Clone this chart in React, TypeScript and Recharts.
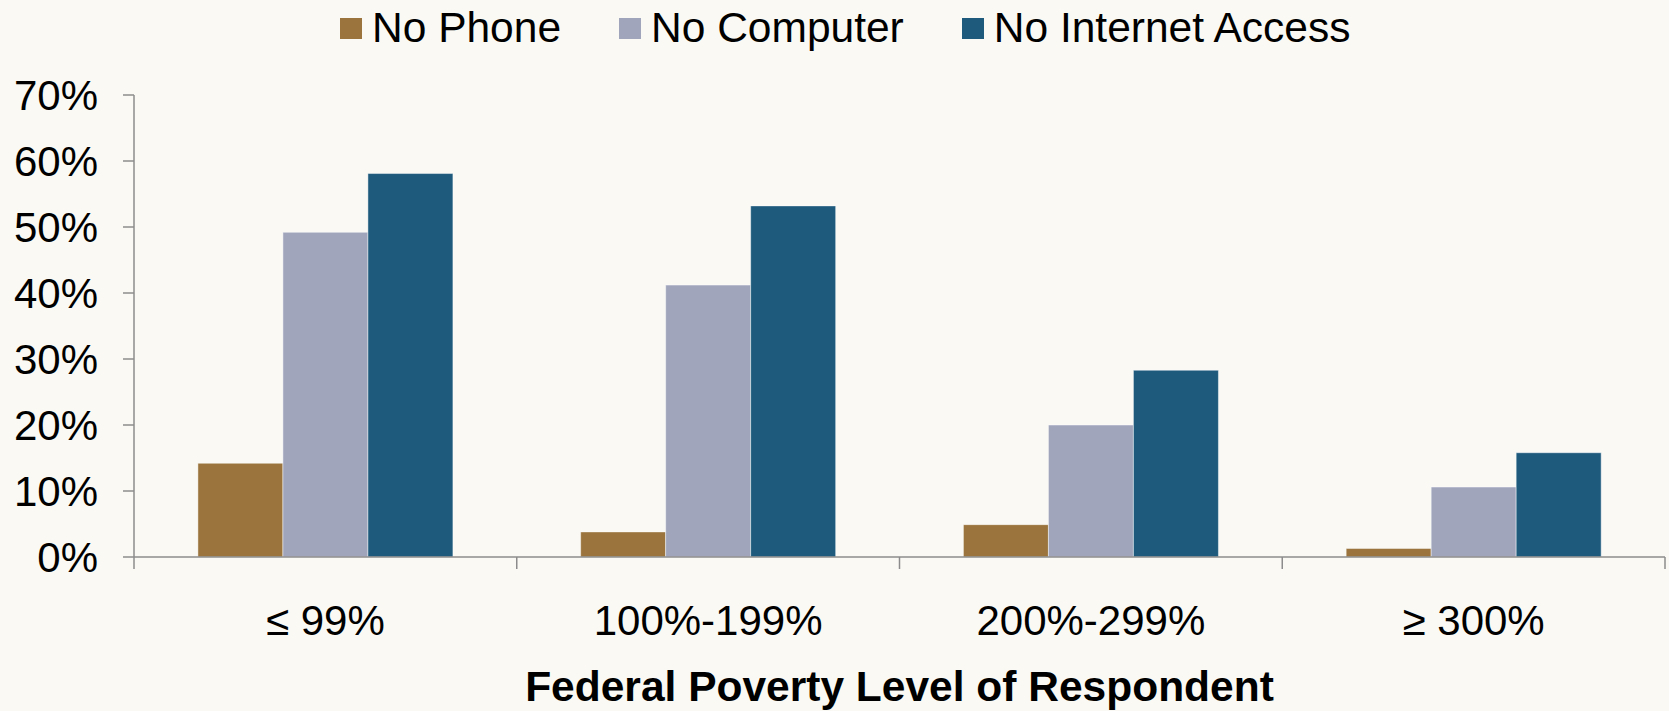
import React from 'react';
import { BarChart, Bar, XAxis, YAxis, Legend } from 'recharts';

const categories = ['≤ 99%', '100%-199%', '200%-299%', '≥ 300%'];
const noPhone = [14.2, 3.8, 4.9, 1.3];
const noComputer = [49.2, 41.2, 20.0, 10.6];
const noInternet = [58.1, 53.2, 28.3, 15.8];
const yTicks = [0, 10, 20, 30, 40, 50, 60, 70];
const seriesNames = ['No Phone', 'No Computer', 'No Internet Access'];
const xTitle = 'Federal Poverty Level of Respondent';

const COLORS = ['#9a743c', '#a1a5bc', '#1e5a7c'];
const FONT = '"Liberation Sans", Arial, Helvetica, sans-serif';
const AXIS_COLOR = '#8c8c8c';
const X_TICK_SIZE = 12;
const X_TICK_MARGIN = 36;

const data = categories.map((c, i) => ({
  category: c,
  noPhone: noPhone[i],
  noComputer: noComputer[i],
  noInternet: noInternet[i],
}));

function CategoryTick(props: any) {
  const { x, y, payload, index, visibleTicksCount } = props;
  const axisY = y - X_TICK_SIZE - X_TICK_MARGIN;
  const half = payload && typeof payload.offset === 'number' ? payload.offset : 0;
  const isLast = index === visibleTicksCount - 1;
  return (
    <g>
      <line x1={x - half} x2={x - half} y1={axisY} y2={axisY + X_TICK_SIZE} stroke={AXIS_COLOR} strokeWidth={1.5} />
      {isLast && (
        <line x1={x + half} x2={x + half} y1={axisY} y2={axisY + X_TICK_SIZE} stroke={AXIS_COLOR} strokeWidth={1.5} />
      )}
      <text x={x} y={y} dy="0.71em" textAnchor="middle" fill="#000" fontSize={42} fontFamily={FONT}>
        {payload.value}
      </text>
    </g>
  );
}

function TitleLabel(props: any) {
  const vb = props.viewBox || {};
  const cx = (vb.x || 0) + (vb.width || 0) / 2;
  const y0 = vb.y || 0;
  return (
    <text x={cx} y={y0 + 144} textAnchor="middle" fill="#000" fontSize={42.5} fontWeight="bold" fontFamily={FONT}>
      {xTitle}
    </text>
  );
}

function LegendContent() {
  return (
    <div style={{ display: 'flex', flexDirection: 'row', alignItems: 'center', fontFamily: FONT }}>
      {seriesNames.map((name, i) => (
        <div key={name} style={{ display: 'flex', alignItems: 'center', marginRight: 58 }}>
          <div style={{ width: 22, height: 21, background: COLORS[i], marginRight: 10 }} />
          <span style={{ fontSize: 42.5, lineHeight: '42px', color: '#000', whiteSpace: 'nowrap' }}>{name}</span>
        </div>
      ))}
    </div>
  );
}

export default function App() {
  return (
    <div style={{ position: 'fixed', left: 0, top: 0, width: 1669, height: 711, background: '#faf9f4' }}>
      <BarChart
        width={1669}
        height={711}
        data={data}
        margin={{ top: 95, right: 4, bottom: 0, left: 0 }}
        barCategoryGap="16.7%"
        barGap={0}
      >
        <XAxis
          dataKey="category"
          height={154}
          axisLine={{ stroke: AXIS_COLOR, strokeWidth: 1.5 }}
          tickLine={false}
          tickSize={X_TICK_SIZE}
          tickMargin={X_TICK_MARGIN}
          tick={<CategoryTick />}
          interval={0}
          label={<TitleLabel />}
        />
        <YAxis
          width={134}
          domain={[0, 70]}
          ticks={yTicks}
          interval={0}
          tickFormatter={(v: number) => `${v}%`}
          axisLine={{ stroke: AXIS_COLOR, strokeWidth: 1.5 }}
          tickLine={{ stroke: AXIS_COLOR, strokeWidth: 1.5 }}
          tickSize={11}
          tickMargin={25}
          tick={{ fill: '#000', fontSize: 42, fontFamily: FONT }}
        />
        <Legend
          verticalAlign="middle"
          layout="horizontal"
          content={<LegendContent />}
          wrapperStyle={{ top: 7, left: 340, width: 'auto', height: 'auto' }}
        />
        <Bar dataKey="noPhone" name={seriesNames[0]} fill={COLORS[0]} stroke="rgba(255,255,255,0.45)" strokeWidth={1} isAnimationActive={false} />
        <Bar dataKey="noComputer" name={seriesNames[1]} fill={COLORS[1]} stroke="rgba(255,255,255,0.45)" strokeWidth={1} isAnimationActive={false} />
        <Bar dataKey="noInternet" name={seriesNames[2]} fill={COLORS[2]} stroke="rgba(255,255,255,0.45)" strokeWidth={1} isAnimationActive={false} />
      </BarChart>
    </div>
  );
}
